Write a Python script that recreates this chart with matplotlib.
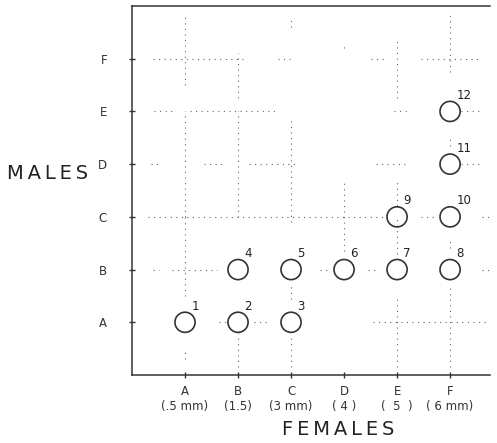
import matplotlib.pyplot as plt
import numpy as np

# categories (A..F = 1..6)
female_labels = ['A\n(.5 mm)', 'B\n(1.5)', 'C\n(3 mm)', 'D\n( 4 )', 'E\n(  5  )', 'F\n( 6 mm)']
male_labels = ['A', 'B', 'C', 'D', 'E', 'F']

# crosses: female size, male size, cross number
fem = [1, 2, 3, 2, 3, 4, 5, 6, 5, 6, 6, 6]
mal = [1, 1, 1, 2, 2, 2, 2, 2, 3, 3, 4, 5]
nums = [str(i) for i in range(1, 13)]

# faint dotted guide lines, as left on the original
h_y = [6, 6, 6, 6, 5, 5, 5, 5, 4, 4, 4, 4, 4, 3, 3, 3, 2, 2, 2, 2, 2, 1, 1, 1]
h_x0 = [0.4, 2.75, 4.5, 5.45, 0.42, 1.1, 4.95, 6.2, 0.35, 1.35, 2.2, 4.6, 6.2, 0.3, 5.45, 6.6, 0.4, 0.75, 3.55, 4.45, 6.6, 1.65, 2.3, 4.55]
h_x1 = [2.15, 3.0, 4.75, 6.6, 0.77, 2.75, 5.2, 6.6, 0.5, 1.7, 3.15, 5.2, 6.6, 4.8, 5.75, 6.75, 0.5, 1.6, 3.75, 4.6, 6.75, 1.8, 2.55, 6.75]

v_x = [1, 1, 1, 1, 2, 2, 2, 3, 3, 3, 3, 4, 4, 5, 5, 5, 5, 6, 6, 6, 6]
v_y0 = [5.5, 3.0, 1.5, 0.3, 5.25, 3.0, 0.15, 6.6, 2.9, 1.45, 0.15, 6.2, 2.35, 5.25, 3.2, 2.3, 0.15, 5.75, 4.35, 2.4, 0.15]
v_y1 = [6.8, 5.0, 3.0, 0.45, 6.1, 5.0, 0.8, 6.75, 4.9, 1.7, 0.7, 6.3, 3.65, 6.4, 3.7, 3.0, 1.45, 6.9, 4.5, 2.6, 1.7]

fig = plt.figure(figsize=(4.97, 4.43), dpi=100)
ax = fig.add_axes([0.2656, 0.1535, 0.72, 0.833])

dot = (0, (1, 4))
for y, a, b in zip(h_y, h_x0, h_x1):
    ax.plot([a, b], [y, y], color='#666666', lw=0.8, linestyle=dot)
for x, a, b in zip(v_x, v_y0, v_y1):
    ax.plot([x, x], [a, b], color='#666666', lw=0.8, linestyle=dot)

ax.scatter(fem, mal, s=210, facecolor='none', edgecolor='#333333', linewidth=1.2, zorder=3)
for x, y, n in zip(fem, mal, nums):
    ax.annotate(n, (x, y), xytext=(4.5, 11.5), textcoords='offset points',
                fontsize=8.5, ha='left', va='center', color='#222222')

ax.set_xlim(0, 6.75)
ax.set_ylim(0, 7)
ax.set_xticks(np.arange(1, 7))
ax.set_xticklabels(female_labels, fontsize=8.5, color='#222222', linespacing=1.25)
ax.set_yticks(np.arange(1, 7))
ax.set_yticklabels(male_labels, fontsize=8.5, color='#222222')
ax.tick_params(axis='x', direction='inout', length=4, width=1, pad=5, colors='#333333')
ax.tick_params(axis='y', direction='inout', length=4, width=1, pad=16, colors='#333333')

for s in ['left', 'bottom', 'top']:
    ax.spines[s].set_color('#333333')
    ax.spines[s].set_linewidth(1.1)
ax.spines['right'].set_visible(False)

ax.set_ylabel('M\u2009A\u2009L\u2009E\u2009S', rotation=0, fontsize=14, color='#222222',
              ha='center', va='center')
ax.yaxis.set_label_coords(-0.235, 0.547)
ax.set_xlabel('F\u2009E\u2009M\u2009A\u2009L\u2009E\u2009S', fontsize=14, color='#222222',
              ha='center', va='center')
ax.xaxis.set_label_coords(0.575, -0.149)

fig.savefig('out.png', dpi=100)
